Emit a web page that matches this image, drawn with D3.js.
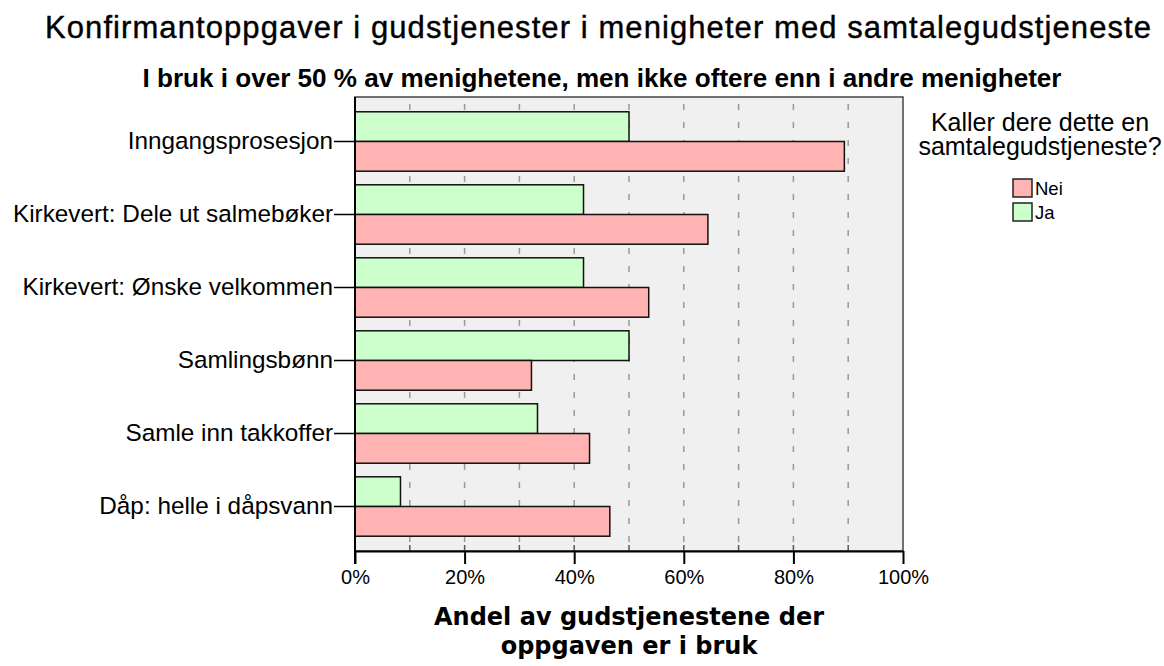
<!DOCTYPE html>
<html lang="no">

<head>
  <meta charset="UTF-8">
  <title>Konfirmantoppgaver</title>
  <script src="https://cdn.jsdelivr.net/npm/d3@7"></script>
  <style>
    body {
      margin: 0;
      background: #ffffff;
    }

    text {
      font-family: "Liberation Sans", Arial, sans-serif;
      fill: #000000;
    }

    .axisTitle {
      font-family: "DejaVu Sans", sans-serif;
      font-weight: bold;
      font-size: 24px;
    }
  </style>
</head>

<body>
  <div class="chart"></div>

  <script type="text/javascript">
    // data (percent)
    const categories = [
      'Inngangsprosesjon',
      'Kirkevert: Dele ut salmebøker',
      'Kirkevert: Ønske velkommen',
      'Samlingsbønn',
      'Samle inn takkoffer',
      'Dåp: helle i dåpsvann'
    ];
    const seriesNames = ['Ja', 'Nei'];
    const jaValues = [50.0, 41.7, 41.7, 50.0, 33.3, 8.3];
    const neiValues = [89.3, 64.4, 53.6, 32.2, 42.8, 46.5];
    const xTicks = [0, 20, 40, 60, 80, 100];
    const gridTicks = [10, 20, 30, 40, 50, 60, 70, 80, 90];
    const legendItems = ['Nei', 'Ja'];

    const colors = { Nei: '#ffb3b3', Ja: '#ccffcc' };

    const rows = categories.map(function(c, i) {
      return { name: c, Ja: jaValues[i], Nei: neiValues[i] };
    });

    const svg = d3
      .select('.chart')
      .append('svg')
      .attr('width', 1164)
      .attr('height', 666);

    const x = d3.scaleLinear().domain([0, 100]).range([355, 903]);
    const y = d3.scaleBand()
      .domain(categories)
      .range([97, 551])
      .paddingInner(0.186)
      .paddingOuter(0.2025);
    const ySub = d3.scaleBand().domain(seriesNames).range([0, y.bandwidth()]);

    //plot background
    svg.append('rect')
      .attr('x', x(0))
      .attr('y', 97)
      .attr('width', x(100) - x(0))
      .attr('height', 551 - 97)
      .attr('fill', '#f0f0f0')
      .attr('stroke', '#444')
      .attr('stroke-width', 1.5);

    //dashed grid
    svg.selectAll('.grid')
      .data(gridTicks)
      .enter()
      .append('line')
      .attr('class', 'grid')
      .attr('x1', d => x(d))
      .attr('x2', d => x(d))
      .attr('y1', 104)
      .attr('y2', 551)
      .attr('stroke', '#999')
      .attr('stroke-width', 1.5)
      .attr('stroke-dasharray', '6,12');

    //bars
    const groups = svg.selectAll('.group')
      .data(rows)
      .enter()
      .append('g')
      .attr('class', 'group')
      .attr('transform', d => 'translate(0,' + y(d.name) + ')');

    groups.selectAll('rect')
      .data(d => seriesNames.map(k => ({ key: k, value: d[k] })))
      .enter()
      .append('rect')
      .attr('x', x(0))
      .attr('y', d => ySub(d.key))
      .attr('width', d => x(d.value) - x(0))
      .attr('height', ySub.bandwidth())
      .attr('fill', d => colors[d.key])
      .attr('stroke', '#111')
      .attr('stroke-width', 1.5);

    //category axis
    const yAxis = svg.append('g')
      .attr('transform', 'translate(' + x(0) + ',0)')
      .call(d3.axisLeft(y).tickSize(21).tickPadding(1));
    yAxis.select('.domain').remove();
    yAxis.selectAll('line').attr('stroke', '#000').attr('stroke-width', 1.5);
    yAxis.selectAll('text')
      .attr('font-family', '"Liberation Sans", Arial, sans-serif')
      .attr('font-size', 24.3)
      .attr('fill', '#000');

    //minor inner ticks
    svg.selectAll('.minor')
      .data(gridTicks)
      .enter()
      .append('line')
      .attr('class', 'minor')
      .attr('x1', d => x(d))
      .attr('x2', d => x(d))
      .attr('y1', 545)
      .attr('y2', 551)
      .attr('stroke', '#555')
      .attr('stroke-width', 1.5);

    //value axis
    const xAxis = svg.append('g')
      .attr('transform', 'translate(0,551)')
      .call(d3.axisBottom(x).tickValues(xTicks).tickFormat(d => d + '%').tickSize(13).tickSizeOuter(0).tickPadding(6));
    xAxis.select('.domain').attr('stroke', '#000').attr('stroke-width', 2);
    xAxis.selectAll('line').attr('stroke', '#000').attr('stroke-width', 2);
    xAxis.selectAll('text')
      .attr('font-family', '"Liberation Sans", Arial, sans-serif')
      .attr('font-size', 20)
      .attr('fill', '#000');

    //left axis line
    svg.append('line')
      .attr('x1', x(0))
      .attr('x2', x(0))
      .attr('y1', 97)
      .attr('y2', 564)
      .attr('stroke', '#000')
      .attr('stroke-width', 2);

    //titles
    svg.append('text')
      .attr('x', 598)
      .attr('y', 38)
      .attr('text-anchor', 'middle')
      .attr('font-size', 31)
      .attr('textLength', 1106)
      .attr('lengthAdjust', 'spacing')
      .attr('stroke', '#000')
      .attr('stroke-width', 0.4)
      .text('Konfirmantoppgaver i gudstjenester i menigheter med samtalegudstjeneste');

    svg.append('text')
      .attr('x', 602)
      .attr('y', 87)
      .attr('text-anchor', 'middle')
      .attr('font-size', 26)
      .attr('font-weight', 'bold')
      .attr('textLength', 919)
      .attr('lengthAdjust', 'spacingAndGlyphs')
      .text('I bruk i over 50 % av menighetene, men ikke oftere enn i andre menigheter');

    svg.append('text')
      .attr('class', 'axisTitle')
      .attr('x', 629)
      .attr('y', 625)
      .attr('text-anchor', 'middle')
      .text('Andel av gudstjenestene der');

    svg.append('text')
      .attr('class', 'axisTitle')
      .attr('x', 629)
      .attr('y', 654)
      .attr('text-anchor', 'middle')
      .text('oppgaven er i bruk');

    //legend
    const legend = svg.append('g');
    legend.append('text')
      .attr('x', 1040)
      .attr('y', 131)
      .attr('text-anchor', 'middle')
      .attr('font-size', 25)
      .text('Kaller dere dette en');
    legend.append('text')
      .attr('x', 1040)
      .attr('y', 155)
      .attr('text-anchor', 'middle')
      .attr('font-size', 25)
      .text('samtalegudstjeneste?');

    const items = legend.selectAll('.item')
      .data(legendItems)
      .enter()
      .append('g')
      .attr('class', 'item')
      .attr('transform', (d, i) => 'translate(1013,' + (179 + i * 24) + ')');
    items.append('rect')
      .attr('width', 19)
      .attr('height', 18)
      .attr('fill', d => colors[d])
      .attr('stroke', '#222')
      .attr('stroke-width', 1.5);
    items.append('text')
      .attr('x', 22)
      .attr('y', 16)
      .attr('font-size', 18.5)
      .text(d => d);
  </script>
</body></html>
